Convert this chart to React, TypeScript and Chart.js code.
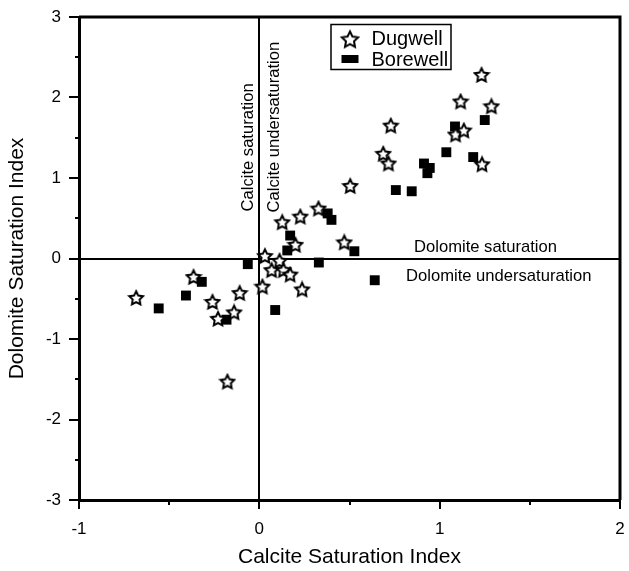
import React, { useEffect, useRef } from 'react';
import { Chart, registerables } from 'chart.js';

Chart.register(...registerables);

const seriesLabels = ['Dugwell', 'Borewell'];

const dugwellX = [-0.683, -0.365, -0.26, -0.229, -0.14, -0.109, -0.177, 0.017, 0.031, 0.112, 0.068, 0.134, 0.171, 0.237, 0.2, 0.127, 0.227, 0.328, 0.471, 0.504, 0.687, 0.716, 0.729, 1.088, 1.134, 1.116, 1.287, 1.232, 1.235];
const dugwellY = [-0.49, -0.23, -0.54, -0.75, -0.67, -0.43, -1.53, -0.35, 0.03, -0.03, -0.145, -0.145, -0.2, -0.385, 0.17, 0.45, 0.52, 0.62, 0.2, 0.9, 1.3, 1.18, 1.65, 1.54, 1.59, 1.95, 1.89, 2.28, 1.17];

const borewellX = [-0.558, -0.407, -0.319, -0.182, -0.064, 0.088, 0.155, 0.171, 0.33, 0.379, 0.4, 0.527, 0.64, 0.757, 0.845, 0.913, 0.945, 0.932, 1.037, 1.085, 1.186, 1.25];
const borewellY = [-0.62, -0.46, -0.29, -0.76, -0.07, -0.64, 0.1, 0.285, -0.05, 0.56, 0.48, 0.09, -0.27, 0.85, 0.835, 1.18, 1.125, 1.06, 1.32, 1.64, 1.26, 1.72];

const xRange = [-1, 2];
const yRange = [-3, 3];
const xTitle = 'Calcite Saturation Index';
const yTitle = 'Dolomite Saturation Index';
const annotations = ['Calcite saturation', 'Calcite undersaturation', 'Dolomite saturation', 'Dolomite undersaturation'];

const FONT = '"Liberation Sans", Arial, Helvetica, sans-serif';

function makeStar(size: number, outerR: number, innerR: number, lw: number) {
  const c = document.createElement('canvas');
  c.width = size;
  c.height = size;
  const ctx = c.getContext('2d')!;
  const cx = size / 2;
  const cy = size / 2 + 0.5;
  ctx.beginPath();
  for (let i = 0; i < 10; i++) {
    const r = i % 2 === 0 ? outerR : innerR;
    const a = -Math.PI / 2 + (i * Math.PI) / 5;
    const x = cx + r * Math.cos(a);
    const y = cy + r * Math.sin(a);
    if (i === 0) ctx.moveTo(x, y);
    else ctx.lineTo(x, y);
  }
  ctx.closePath();
  ctx.fillStyle = '#fff';
  ctx.fill();
  ctx.lineWidth = lw;
  ctx.lineJoin = 'miter';
  ctx.strokeStyle = '#000';
  ctx.stroke();
  return c;
}

function zeroPad(s: any) {
  s.paddingLeft = 0;
  s.paddingRight = 0;
  s.paddingTop = 0;
  s.paddingBottom = 0;
}

export default function App() {
  const ref = useRef<HTMLCanvasElement | null>(null);

  useEffect(() => {
    const canvas = ref.current!;
    const star = makeStar(18, 7.2, 3.6, 2);
    const legendStar = makeStar(22, 8.5, 4.2, 2);

    const decorPlugin = {
      id: 'decor',
      beforeDatasetsDraw(chart: any) {
        const { ctx, chartArea: a, scales } = chart;
        ctx.save();
        ctx.strokeStyle = '#000';
        ctx.lineWidth = 3;
        ctx.beginPath();
        ctx.moveTo(a.left, a.top);
        ctx.lineTo(a.right, a.top);
        ctx.lineTo(a.right, a.bottom);
        ctx.stroke();
        ctx.lineWidth = 2;
        const xs = scales.x;
        const ys = scales.y;
        for (let v = xRange[0]; v <= xRange[1] + 1e-9; v += 0.5) {
          const px = Math.round(xs.getPixelForValue(v));
          const major = Math.abs(v - Math.round(v)) < 1e-9;
          ctx.beginPath();
          ctx.moveTo(px, a.bottom);
          ctx.lineTo(px, a.bottom + (major ? 9 : 5));
          ctx.stroke();
        }
        for (let v = yRange[0]; v <= yRange[1] + 1e-9; v += 0.5) {
          const py = Math.round(ys.getPixelForValue(v));
          const major = Math.abs(v - Math.round(v)) < 1e-9;
          ctx.beginPath();
          ctx.moveTo(a.left, py);
          ctx.lineTo(a.left - (major ? 10 : 4), py);
          ctx.stroke();
        }
        ctx.restore();
      },
      afterDatasetsDraw(chart: any) {
        const { ctx, scales } = chart;
        const xs = scales.x;
        const ys = scales.y;
        const x0 = xs.getPixelForValue(0);
        const y0 = ys.getPixelForValue(0);
        ctx.save();
        ctx.fillStyle = '#000';
        ctx.font = `16.6px ${FONT}`;
        ctx.textBaseline = 'alphabetic';
        ctx.textAlign = 'left';
        ctx.save();
        ctx.translate(x0 - 6, y0 - 47);
        ctx.rotate(-Math.PI / 2);
        ctx.fillText(annotations[0], 0, 0);
        ctx.restore();
        ctx.save();
        ctx.translate(x0 + 20, y0 - 46);
        ctx.rotate(-Math.PI / 2);
        ctx.fillText(annotations[1], 0, 0);
        ctx.restore();
        ctx.fillText(annotations[2], 414, y0 - 7);
        ctx.fillText(annotations[3], 406, y0 + 22);
        ctx.lineWidth = 1.5;
        ctx.strokeRect(331, 24.5, 120, 45);
        ctx.drawImage(legendStar, 350 - 11, 40 - 11.5);
        ctx.fillRect(341.5, 55, 17, 8);
        ctx.font = `20px ${FONT}`;
        ctx.fillText(seriesLabels[0], 371.5, 45);
        ctx.fillText(seriesLabels[1], 371.5, 66);
        ctx.restore();
      },
    };

    const chart = new Chart(canvas, {
      type: 'scatter',
      data: {
        datasets: [
          {
            label: seriesLabels[0],
            data: dugwellX.map((x, i) => ({ x, y: dugwellY[i] })),
            pointStyle: star as any,
            pointRadius: 8,
            pointHoverRadius: 8,
            backgroundColor: '#fff',
            borderColor: '#000',
          },
          {
            label: seriesLabels[1],
            data: borewellX.map((x, i) => ({ x, y: borewellY[i] })),
            pointStyle: 'rect',
            pointRadius: 7,
            pointHoverRadius: 7,
            backgroundColor: '#000',
            borderColor: '#000',
            borderWidth: 0,
          },
        ],
      },
      options: {
        animation: false,
        responsive: false,
        maintainAspectRatio: false,
        layout: { padding: { top: 17, right: 7, left: 0, bottom: 0 } },
        plugins: { legend: { display: false }, tooltip: { enabled: false } },
        scales: {
          x: {
            type: 'linear',
            position: 'bottom',
            min: xRange[0],
            max: xRange[1],
            afterFit: (s: any) => {
              s.height = 71;
              zeroPad(s);
            },
            ticks: { stepSize: 1, color: '#000', font: { family: FONT, size: 17 }, padding: 19 },
            grid: {
              display: true,
              drawTicks: false,
              drawOnChartArea: true,
              lineWidth: 2,
              color: (c: any) => (c.tick && c.tick.value === 0 ? '#000' : 'rgba(0,0,0,0)'),
            },
            border: { display: true, width: 3, color: '#000' },
            title: {
              display: true,
              text: xTitle,
              color: '#000',
              font: { family: FONT, size: 21 },
              padding: { top: 0, bottom: 1 },
            },
          },
          y: {
            type: 'linear',
            position: 'left',
            min: yRange[0],
            max: yRange[1],
            afterFit: (s: any) => {
              s.width = 79;
              zeroPad(s);
            },
            ticks: { stepSize: 1, color: '#000', font: { family: FONT, size: 17 }, padding: 18 },
            grid: {
              display: true,
              drawTicks: false,
              drawOnChartArea: true,
              lineWidth: 2,
              color: (c: any) => (c.tick && c.tick.value === 0 ? '#000' : 'rgba(0,0,0,0)'),
            },
            border: { display: true, width: 3, color: '#000' },
            title: {
              display: true,
              text: yTitle,
              color: '#000',
              font: { family: FONT, size: 21 },
              padding: { top: 5, bottom: 0 },
            },
          },
        },
      },
      plugins: [decorPlugin],
    } as any);

    return () => chart.destroy();
  }, []);

  return (
    <div style={{ position: 'absolute', left: 0, top: 0, width: 629, height: 571, background: '#fff' }}>
      <canvas ref={ref} width={629} height={571} style={{ display: 'block', width: 629, height: 571 }} />
    </div>
  );
}
